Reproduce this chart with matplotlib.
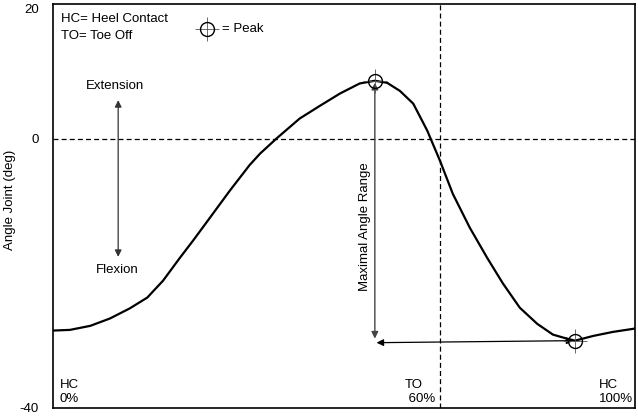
import matplotlib
matplotlib.use('Agg')
import matplotlib.pyplot as plt
import numpy as np

plt.rcParams['font.family'] = ['Liberation Sans', 'DejaVu Sans']

# gait cycle (% of plot width) and joint angle (deg)
gait_pct = [0, 2.9, 6.4, 9.8, 13.2, 16.2, 18.9, 21.8, 24.1, 27.0, 30.4, 33.8,
            35.6, 38.5, 42.4, 45.9, 49.3, 52.7, 55.3, 57.4, 59.6, 61.9, 64.3,
            66.5, 68.7, 71.6, 74.6, 77.3, 80.2, 83.2, 85.9, 88.3, 89.7,
            92.8, 96.2, 100]
angle_deg = [-28.5, -28.4, -27.8, -26.7, -25.2, -23.6, -21.1, -17.7, -15.1, -11.7,
             -7.7, -3.9, -2.2, 0.1, 3.0, 4.9, 6.7, 8.2, 8.6, 8.3, 7.1, 5.2, 1.2,
             -3.3, -8.2, -13.2, -17.7, -21.5, -25.1, -27.5, -29.1, -29.7,
             -30.0, -29.3, -28.7, -28.2]
toe_off_x = 66.5
y_ticks = [20, 0, -40]

x = np.array(gait_pct)
y = np.array(angle_deg)
i_max = int(np.argmax(y))
i_min = int(np.argmin(y))

fs = 9.5
fig = plt.figure(figsize=(6.38, 4.16), dpi=100)
ax = fig.add_axes([53/638, 8/416, 582/638, 404/416])

ax.plot(x, y, color='black', lw=1.6, zorder=3, solid_joinstyle='round')
ax.axhline(0, color='black', lw=0.9, ls=(0, (4, 2.5)), zorder=1)
ax.axvline(toe_off_x, color='black', lw=0.9, ls=(0, (4, 2.5)), zorder=1)

# range arrows
ax.annotate('', xy=(x[i_max], y[i_min] + 0.3), xytext=(x[i_max], y[i_max] - 0.3),
            arrowprops=dict(arrowstyle='<|-|>', color='#444444', lw=1.0,
                            mutation_scale=10, shrinkA=0, shrinkB=0), zorder=4)
ax.annotate('', xy=(x[i_max] + 0.3, y[i_min] - 0.3), xytext=(x[i_min] - 0.3, y[i_min]),
            arrowprops=dict(arrowstyle='<|-|>', color='black', lw=0.9,
                            mutation_scale=10, shrinkA=0, shrinkB=0), zorder=4)

# peak markers
for i in (i_max, i_min):
    ax.plot(x[i], y[i], marker='+', ms=17, mew=0.6, color='#555555', zorder=5)
    ax.plot(x[i], y[i], marker='o', ms=10, mfc='none', mec='black', mew=1.0, zorder=6)

ax.text(0.536, 0.448, 'Maximal Angle Range', rotation=90, ha='center', va='center',
        fontsize=fs, transform=ax.transAxes)

# legend-like notes
ax.text(0.014, 0.963, 'HC= Heel Contact', fontsize=fs, va='center', transform=ax.transAxes)
ax.text(0.014, 0.921, 'TO= Toe Off', fontsize=fs, va='center', transform=ax.transAxes)
ax.plot([0.265], [0.938], marker='+', ms=17, mew=0.6, color='#555555', transform=ax.transAxes)
ax.plot([0.265], [0.938], marker='o', ms=10, mfc='none', mec='black', mew=1.0,
        transform=ax.transAxes)
ax.text(0.290, 0.938, '= Peak', fontsize=fs, va='center', transform=ax.transAxes)

# extension / flexion
ax.annotate('', xy=(0.112, 0.762), xytext=(0.112, 0.374), xycoords='axes fraction',
            arrowprops=dict(arrowstyle='<|-|>', color='#333333', lw=0.9,
                            mutation_scale=10, shrinkA=0, shrinkB=0))
ax.text(0.107, 0.797, 'Extension', fontsize=fs, ha='center', va='center', transform=ax.transAxes)
ax.text(0.110, 0.342, 'Flexion', fontsize=fs, ha='center', va='center', transform=ax.transAxes)

# gait events
ax.text(0.012, 0.008, 'HC\n0%', fontsize=fs, ha='left', va='bottom', linespacing=1.25,
        transform=ax.transAxes)
ax.text(0.605, 0.008, 'TO\n 60%', fontsize=fs, ha='left', va='bottom', linespacing=1.25,
        transform=ax.transAxes)
ax.text(0.938, 0.008, 'HC\n100%', fontsize=fs, ha='left', va='bottom', linespacing=1.25,
        transform=ax.transAxes)

ax.set_xlim(0, 100)
ax.set_ylim(-40, 20)
ax.set_xticks([])
ax.set_yticks(y_ticks)
ax.set_yticklabels([str(t) for t in y_ticks], fontsize=fs)
ax.tick_params(axis='y', length=0, pad=10)
ax.get_yticklabels()[0].set_va('top')
fig.text(10/638, 0.52, 'Angle Joint (deg)', rotation=90, ha='center', va='center', fontsize=fs)
for s in ax.spines.values():
    s.set_linewidth(1.2)

fig.savefig('out.png', dpi=100)
